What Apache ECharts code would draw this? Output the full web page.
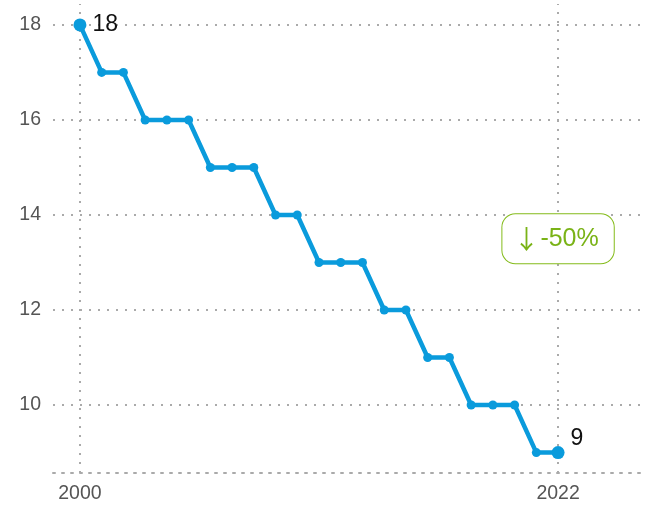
<!DOCTYPE html>
<html>
<head>
<meta charset="utf-8">
<script src="https://cdn.jsdelivr.net/npm/echarts@6/dist/echarts.min.js"></script>
<style>
  html, body { margin: 0; padding: 0; background: #fff; }
  #chart { width: 652px; height: 506px; }
</style>
</head>
<body>
<div id="chart"></div>
<script>
var years = [2000, 2001, 2002, 2003, 2004, 2005, 2006, 2007, 2008, 2009, 2010, 2011,
    2012, 2013, 2014, 2015, 2016, 2017, 2018, 2019, 2020, 2021, 2022];
var values = [18, 17, 17, 16, 16, 16, 15, 15, 15, 14, 14, 13,
    13, 13, 12, 12, 11, 11, 10, 10, 10, 9, 9];
var yTicks = [10, 12, 14, 16, 18];
var xTicks = [2000, 2022];
var changeArrow = '↓';
var changeText = '-50%';

var chart = echarts.init(document.getElementById('chart'));
var blue = '#0a9bdc';
var grey = '#aaaaaa';
var green = '#7ab317';
var dotted = { color: grey, width: 2, type: [2, 7] };

var last = years.length - 1;
var pts = years.map(function (y, i) {
    var p = { value: [y, values[i]] };
    if (i === 0 || i === last) {
        p.symbolSize = 13;
        p.label = {
            show: true, position: 'right', distance: 6,
            offset: i === last ? [0, -14] : [0, 0],
            fontSize: 23, color: '#111', fontFamily: 'Liberation Sans',
            formatter: String(values[i])
        };
    }
    return p;
});

// grid lines as mark lines so they only sit at the labelled values
var guides = yTicks.map(function (v) { return { yAxis: v }; })
    .concat(xTicks.map(function (v) { return { xAxis: v }; }));

chart.setOption({
    animation: false,
    grid: { left: 53, right: 7, top: 4, bottom: 33 },
    xAxis: {
        type: 'value',
        min: 1998.76,
        max: 2026,
        splitLine: { show: false },
        axisTick: { show: false },
        axisLine: { show: true, lineStyle: dotted },
        axisLabel: {
            customValues: xTicks,
            formatter: function (v) { return String(v); },
            fontSize: 19.5, color: '#555', margin: 11,
            fontFamily: 'Liberation Sans'
        }
    },
    yAxis: {
        type: 'value',
        min: 8.57,
        max: 18.44,
        splitLine: { show: false },
        axisTick: { show: false },
        axisLine: { show: false },
        axisLabel: {
            customValues: yTicks,
            fontSize: 19.5, color: '#555', margin: 12,
            fontFamily: 'Liberation Sans'
        }
    },
    series: [{
        type: 'line',
        data: [],
        silent: true,
        markLine: {
            silent: true,
            symbol: 'none',
            label: { show: false },
            lineStyle: dotted,
            data: guides
        }
    }, {
        type: 'line',
        zlevel: 1,
        data: pts,
        symbol: 'circle',
        symbolSize: 9,
        lineStyle: { color: blue, width: 4.5 },
        itemStyle: { color: blue },
        markPoint: {
            symbol: 'circle',
            symbolSize: 1,
            itemStyle: { color: 'rgba(0,0,0,0)' },
            data: [{
                coord: [2022, 13.5],
                label: {
                    show: true,
                    position: 'inside',
                    formatter: '{a|' + changeArrow + '}{b|' + changeText + '}',
                    backgroundColor: '#fff',
                    borderColor: '#84bb1a',
                    borderWidth: 1,
                    borderRadius: 13,
                    padding: [12, 15, 11, 10],
                    rich: {
                        a: { fontSize: 26, fontFamily: 'Noto Sans CJK SC', color: green, width: 28, align: 'center' },
                        b: { fontSize: 25, fontFamily: 'Liberation Sans', color: green }
                    }
                }
            }]
        }
    }]
});
</script>
</body>
</html>
